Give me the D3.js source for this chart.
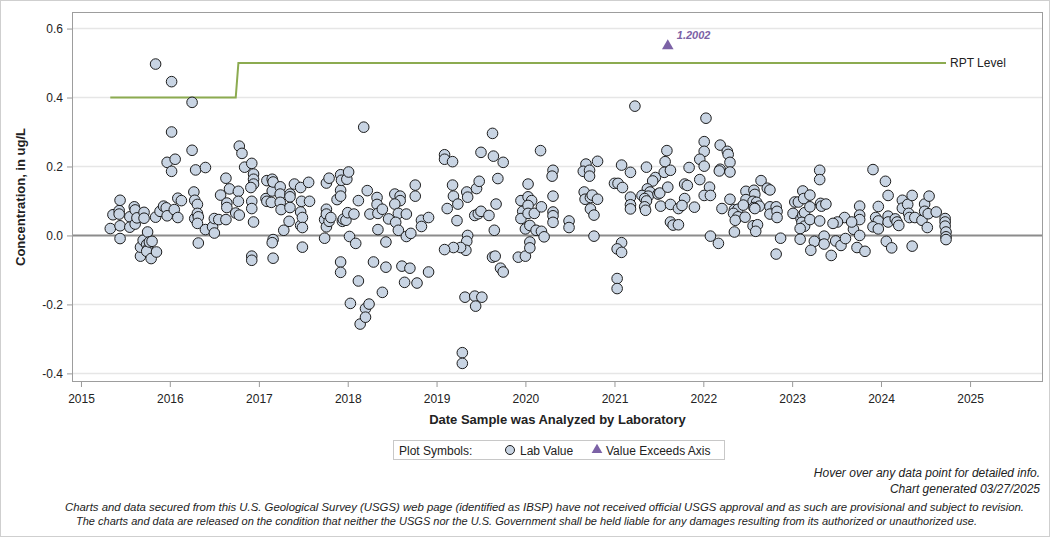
<!DOCTYPE html>
<html>
<head>
<meta charset="utf-8">
<script src="https://cdn.jsdelivr.net/npm/d3@7"></script>
<style>
body { margin: 0; background: #fff; }
svg text { font-family: "Liberation Sans", Arial, sans-serif; fill: #222; }
.foot { font-family: "Liberation Sans Narrow", "Liberation Sans", Arial, sans-serif; font-style: italic; }
</style>
</head>
<body>
<div id="chart"></div>
<script>
// sample dates (decimal years) and lab values, in ug/L
var sampleYear = [
  2015.33,2015.36,2015.43,2015.43,2015.44,2015.44,2015.44,2015.55,2015.55,2015.60,
  2015.61,2015.61,2015.63,2015.67,2015.67,2015.70,2015.71,2015.71,2015.75,2015.74,
  2015.75,2015.74,2015.77,2015.79,2015.80,2015.84,2015.84,2015.85,2015.89,2015.93,
  2015.96,2015.97,2015.97,2016.02,2016.02,2016.02,2016.05,2016.06,2016.09,2016.09,
  2016.13,2016.25,2016.25,2016.27,2016.28,2016.29,2016.28,2016.31,2016.31,2016.32,
  2016.31,2016.32,2016.40,2016.40,2016.48,2016.50,2016.50,2016.55,2016.57,2016.63,
  2016.64,2016.64,2016.63,2016.67,2016.74,2016.77,2016.77,2016.78,2016.78,2016.81,
  2016.84,2016.92,2016.94,2016.94,2016.94,2016.91,2016.92,2016.92,2016.94,2016.92,
  2016.92,2017.09,2017.08,2017.09,2017.14,2017.15,2017.15,2017.16,2017.16,2017.15,
  2017.16,2017.24,2017.24,2017.24,2017.25,2017.28,2017.34,2017.35,2017.35,2017.35,
  2017.40,2017.47,2017.47,2017.48,2017.47,2017.49,2017.49,2017.49,2017.56,2017.57,
  2017.74,2017.74,2017.76,2017.76,2017.76,2017.76,2017.79,2017.79,2017.81,2017.88,
  2017.92,2017.92,2017.92,2017.93,2017.92,2017.92,2017.94,2017.95,2017.99,2017.98,
  2018.00,2018.01,2018.02,2018.03,2018.07,2018.09,2018.12,2018.12,2018.14,2018.18,
  2018.20,2018.20,2018.22,2018.24,2018.25,2018.29,2018.33,2018.33,2018.34,2018.34,
  2018.39,2018.39,2018.43,2018.43,2018.46,2018.53,2018.59,2018.59,2018.53,2018.76,
  2018.76,2018.57,2018.66,2018.54,2018.57,2018.66,2018.71,2018.83,2018.91,2018.83,
  2018.61,2018.70,2018.91,2018.64,2018.78,2019.09,2019.09,2019.18,2019.50,2019.64,
  2019.75,2019.18,2019.19,2019.24,2019.12,2019.23,2019.34,2019.35,2019.45,2019.48,
  2019.43,2019.47,2019.50,2019.59,2019.67,2019.69,2019.65,2019.35,2019.34,2019.33,
  2019.27,2019.19,2019.09,2019.63,2019.66,2019.72,2019.75,2019.92,2020.00,2019.32,
  2019.43,2019.51,2019.44,2019.29,2019.29,2020.03,2019.95,2020.03,2020.07,2019.97,
  2019.95,2020.03,2020.03,2020.10,2020.00,2020.05,2020.05,2020.05,2019.63,2020.18,
  2020.17,2020.12,2020.18,2020.21,2020.31,2020.30,2020.31,2020.31,2020.31,2020.31,
  2020.49,2020.49,2020.68,2020.65,2020.72,2020.72,2020.81,2020.66,2020.67,2020.73,
  2020.75,2020.81,2020.73,2020.77,2020.77,2021.08,2021.18,2021.00,2021.04,2021.09,
  2021.18,2021.18,2021.18,2021.08,2021.03,2021.08,2021.03,2021.03,2021.23,2021.36,
  2021.46,2021.43,2021.37,2021.40,2021.31,2021.38,2021.34,2021.36,2021.34,2021.35,
  2021.49,2021.51,2021.52,2021.59,2021.57,2021.56,2021.63,2021.60,2021.63,2021.63,
  2021.66,2021.72,2021.72,2022.03,2022.01,2022.01,2021.96,2022.01,2021.84,2021.96,
  2021.79,2021.82,2022.07,2022.01,2022.08,2021.79,2021.76,2021.90,2022.08,2022.17,
  2022.19,2022.27,2022.28,2022.30,2022.19,2022.18,2022.30,2022.21,2022.30,2022.35,
  2022.39,2022.34,2022.39,2022.36,2022.47,2022.35,2022.65,2022.48,2022.57,2022.58,
  2022.48,2022.56,2022.60,2022.63,2022.57,2022.45,2022.58,2022.56,2022.61,2022.59,
  2022.72,2022.75,2022.75,2022.82,2022.75,2022.83,2022.83,2022.87,2022.82,2023.01,
  2023.03,2023.07,2023.12,2023.13,2023.20,2023.10,2023.12,2023.14,2023.20,2023.11,
  2023.14,2023.09,2023.20,2023.09,2023.25,2023.21,2023.31,2023.31,2023.32,2023.33,
  2023.31,2023.36,2023.36,2023.38,2023.44,2023.91,2024.05,2024.08,2023.76,2023.76,
  2023.76,2023.69,2023.76,2023.59,2023.67,2023.51,2023.46,2023.49,2023.55,2023.60,
  2023.73,2023.82,2023.97,2023.94,2023.97,2023.91,2023.97,2024.06,2024.12,2024.08,
  2024.08,2024.16,2024.18,2024.20,2024.24,2024.24,2024.30,2024.35,2024.31,2024.32,
  2024.38,2024.35,2024.46,2024.52,2024.49,2024.54,2024.49,2024.53,2024.62,2024.72,
  2024.72,2024.72,2024.73,2024.73,2024.73
];
var sampleValue = [
  0.020,0.060,0.072,0.062,0.102,0.028,-0.009,0.054,0.024,0.083,
  0.074,0.033,0.051,-0.060,-0.034,-0.014,0.067,0.050,0.010,-0.026,
  -0.040,-0.046,-0.019,-0.067,-0.017,0.497,0.053,-0.048,0.070,0.085,
  0.080,0.057,0.212,0.446,0.300,0.186,0.075,0.221,0.108,0.052,
  0.101,0.386,0.247,0.126,0.049,0.190,0.102,0.090,0.064,0.054,
  0.035,-0.022,0.197,0.017,0.025,0.049,0.007,0.046,0.117,0.166,
  0.094,0.081,0.046,0.135,0.065,0.128,0.099,0.059,0.259,0.238,
  0.198,0.209,0.178,0.163,0.149,0.139,0.099,0.078,0.039,-0.060,
  -0.072,0.159,0.107,0.099,0.096,0.163,0.129,0.155,-0.012,-0.021,
  -0.066,0.141,0.120,0.096,0.075,0.015,0.041,0.081,0.120,0.112,
  0.149,0.139,0.068,0.099,0.029,0.052,0.023,-0.034,0.154,0.099,
  0.046,-0.008,0.152,0.076,0.062,0.025,0.041,0.166,0.052,0.104,
  0.176,0.131,0.114,0.160,-0.077,-0.107,0.041,0.047,0.163,0.044,
  0.066,0.184,-0.003,-0.197,0.062,-0.023,0.101,-0.132,-0.257,0.314,
  -0.212,-0.237,0.130,-0.199,0.062,-0.077,0.110,0.090,0.064,0.017,
  0.076,-0.165,-0.019,-0.092,0.048,0.120,0.114,0.101,0.091,0.146,
  0.114,0.064,0.062,0.038,0.015,-0.003,0.006,0.044,0.052,0.026,
  -0.089,-0.095,-0.106,-0.136,-0.138,0.234,0.221,0.214,0.241,0.230,
  0.212,0.146,0.114,0.091,0.078,0.043,0.126,0.111,0.136,0.157,
  0.058,0.063,0.070,0.058,0.091,0.165,0.015,0.000,-0.017,-0.043,
  -0.035,-0.035,-0.041,-0.063,-0.060,-0.095,-0.106,-0.063,-0.060,-0.179,
  -0.176,-0.179,-0.205,-0.340,-0.371,0.149,0.101,0.112,0.101,0.070,
  0.049,0.087,0.064,0.064,0.019,0.029,-0.019,-0.036,0.296,0.083,
  0.246,0.015,0.012,-0.004,0.189,0.172,0.114,0.068,0.057,0.038,
  0.042,0.023,0.207,0.186,0.189,0.172,0.215,0.126,0.105,0.110,
  0.117,0.105,0.077,0.059,-0.002,0.204,0.183,0.151,0.151,0.139,
  0.111,0.089,0.077,-0.021,-0.039,-0.049,-0.125,-0.154,0.375,0.198,
  0.168,0.158,0.135,0.126,0.116,0.114,0.107,0.100,0.083,0.073,
  0.120,0.123,0.085,0.246,0.214,0.183,0.189,0.140,0.090,0.039,
  0.030,0.031,0.078,0.340,0.272,0.244,0.221,0.201,0.197,0.162,
  0.149,0.145,0.140,0.116,0.116,0.107,0.087,0.082,-0.002,-0.023,
  0.262,0.244,0.235,0.212,0.192,0.187,0.184,0.078,0.105,0.075,
  0.076,0.064,0.054,0.044,0.053,0.010,0.159,0.128,0.131,0.119,
  0.104,0.099,0.096,0.085,0.081,0.088,0.078,0.028,0.031,0.012,
  0.137,0.132,0.083,0.083,0.062,0.070,0.052,-0.008,-0.054,0.064,
  0.097,0.097,0.129,0.107,0.117,0.049,0.059,0.066,0.083,0.038,
  0.027,0.020,0.046,-0.011,-0.017,-0.043,0.189,0.162,0.093,0.085,
  0.042,-0.002,-0.025,0.091,-0.058,0.191,0.157,0.116,0.085,0.059,
  0.046,0.018,0.000,0.052,0.039,0.039,0.035,-0.016,-0.029,-0.009,
  -0.035,-0.046,0.084,0.052,0.042,0.025,0.019,-0.017,-0.036,0.056,
  0.039,0.048,0.039,0.029,0.102,0.079,0.090,0.116,0.064,0.052,
  0.052,-0.031,0.044,0.023,0.091,0.114,0.070,0.063,0.068,0.049,
  0.039,0.027,0.010,-0.004,-0.012
];

// reporting level step line
var rptYear = [2015.33, 2016.74, 2016.77, 2024.73];
var rptValue = [0.4, 0.4, 0.5, 0.5];

// values above the axis maximum
var exceedYear = [2021.60];
var exceedValue = [1.2002];

var yTicks = [-0.4, -0.2, 0.0, 0.2, 0.4, 0.6];
var yMin = -0.425, yMax = 0.648;
var xMinYear = 2014.899, xMaxYear = 2025.821;

var width = 1056, height = 538;
var plot = {left: 72, top: 12, right: 1043, bottom: 382};
var pointFill = "#c8d4e3",
    rptColor = "#8cab50",
    exceedColor = "#7c62a6";

function yearToDate(y) {
    var yr = Math.floor(y);
    var start = Date.UTC(yr, 0, 1), end = Date.UTC(yr + 1, 0, 1);
    return new Date(start + (y - yr) * (end - start));
}

var samples = sampleYear.map(function(y, i) {
    return {date: yearToDate(y), value: sampleValue[i]};
});
var rpt = rptYear.map(function(y, i) {
    return {date: yearToDate(y), value: rptValue[i]};
});
var exceed = exceedYear.map(function(y, i) {
    return {date: yearToDate(y), value: exceedValue[i]};
});

var xScale = d3.scaleUtc()
        .domain([yearToDate(xMinYear), yearToDate(xMaxYear)])
        .range([plot.left, plot.right]);
var yScale = d3.scaleLinear()
        .domain([yMin, yMax])
        .range([plot.bottom, plot.top]);

var svg = d3.select("#chart").append("svg")
        .attr("width", width)
        .attr("height", height);

svg.append("rect")
    .attr("x", 0.5).attr("y", 0.5)
    .attr("width", width - 7).attr("height", height - 2)
    .attr("fill", "#fff")
    .attr("stroke", "#cfcfcf");

svg.append("clipPath").attr("id", "plotClip")
    .append("rect")
    .attr("x", plot.left).attr("y", plot.top)
    .attr("width", plot.right - plot.left)
    .attr("height", plot.bottom - plot.top);

// grid lines
svg.append("g").selectAll("line")
    .data(yTicks.filter(function(d) { return d !== 0; }))
    .enter().append("line")
    .attr("x1", plot.left).attr("x2", plot.right)
    .attr("y1", function(d) { return yScale(d); })
    .attr("y2", function(d) { return yScale(d); })
    .attr("stroke", "#e6e6e6")
    .attr("stroke-width", 1.5);

svg.append("line")
    .attr("x1", plot.left).attr("x2", plot.right)
    .attr("y1", yScale(0)).attr("y2", yScale(0))
    .attr("stroke", "#8c8c8c")
    .attr("stroke-width", 2);

// axes
var yAxis = svg.append("g")
    .attr("transform", "translate(" + plot.left + ",0)")
    .call(d3.axisLeft(yScale)
        .tickValues(yTicks)
        .tickSize(5)
        .tickPadding(4)
        .tickFormat(function(d) { return d.toFixed(1); }));
var xAxis = svg.append("g")
    .attr("transform", "translate(0," + plot.bottom + ")")
    .call(d3.axisBottom(xScale)
        .ticks(d3.utcYear.every(1))
        .tickSize(5)
        .tickPadding(7)
        .tickFormat(d3.utcFormat("%Y")));
[yAxis, xAxis].forEach(function(ax) {
    ax.select(".domain").remove();
    ax.selectAll(".tick line").attr("stroke", "#9a9a9a");
    ax.selectAll(".tick text")
        .style("font-family", "'Liberation Sans', Arial, sans-serif")
        .style("font-size", "12px")
        .attr("fill", "#222");
});

svg.append("rect")
    .attr("x", plot.left + 0.5).attr("y", plot.top + 0.5)
    .attr("width", plot.right - plot.left - 1)
    .attr("height", plot.bottom - plot.top - 1)
    .attr("fill", "none")
    .attr("stroke", "#9d9d9d");

var dataGroup = svg.append("g").attr("clip-path", "url(#plotClip)");

// RPT level
var line = d3.line()
    .x(function(d) { return xScale(d.date); })
    .y(function(d) { return yScale(d.value); });
dataGroup.append("path")
    .attr("d", line(rpt))
    .attr("fill", "none")
    .attr("stroke", rptColor)
    .attr("stroke-width", 2);
var rptEnd = rpt[rpt.length - 1];
svg.append("text")
    .attr("x", xScale(rptEnd.date) + 4)
    .attr("y", yScale(rptEnd.value) + 4)
    .style("font-size", "12px")
    .text("RPT Level");

// sample points
dataGroup.append("g").selectAll("circle")
    .data(samples)
    .enter().append("circle")
    .attr("cx", function(d) { return xScale(d.date); })
    .attr("cy", function(d) { return yScale(d.value); })
    .attr("r", 5.3)
    .attr("fill", pointFill)
    .attr("stroke", "#1c1c1c")
    .attr("stroke-width", 1);

// values exceeding the axis
var exceedY = yScale(yMax) + 34;
var tri = svg.append("g").selectAll("g")
    .data(exceed)
    .enter().append("g")
    .attr("transform", function(d) { return "translate(" + xScale(d.date) + "," + exceedY + ")"; });
tri.append("path")
    .attr("d", d3.symbol(d3.symbolTriangle).size(58))
    .attr("fill", exceedColor);
tri.append("text")
    .attr("x", 9).attr("y", -7)
    .style("font-size", "11px")
    .style("font-weight", "bold")
    .style("font-style", "italic")
    .style("fill", exceedColor)
    .text(function(d) { return d.value.toFixed(4); });

// axis titles
svg.append("text")
    .attr("transform", "translate(25," + ((plot.top + plot.bottom) / 2) + ") rotate(-90)")
    .attr("text-anchor", "middle")
    .style("font-size", "13px")
    .style("font-weight", "bold")
    .text("Concentration, in ug/L");
svg.append("text")
    .attr("x", (plot.left + plot.right) / 2)
    .attr("y", 424)
    .attr("text-anchor", "middle")
    .style("font-size", "13px")
    .style("font-weight", "bold")
    .text("Date Sample was Analyzed by Laboratory");

// legend
var legend = svg.append("g");
legend.append("rect")
    .attr("x", 393.5).attr("y", 440.5)
    .attr("width", 331).attr("height", 19)
    .attr("fill", "#fff")
    .attr("stroke", "#c8c8c8");
legend.append("text").attr("x", 399).attr("y", 454.5)
    .style("font-size", "12px").text("Plot Symbols:");
legend.append("circle")
    .attr("cx", 510).attr("cy", 450).attr("r", 4.5)
    .attr("fill", pointFill).attr("stroke", "#1c1c1c");
legend.append("text").attr("x", 520).attr("y", 454.5)
    .style("font-size", "12px").text("Lab Value");
legend.append("path")
    .attr("transform", "translate(597,450)")
    .attr("d", d3.symbol(d3.symbolTriangle).size(50))
    .attr("fill", exceedColor);
legend.append("text").attr("x", 606).attr("y", 454.5)
    .style("font-size", "12px").text("Value Exceeds Axis");

// footer notes
var foot = svg.append("g").attr("class", "foot");
foot.append("text").attr("class", "foot")
    .attr("x", 1040).attr("y", 477).attr("text-anchor", "end")
    .style("font-size", "12px")
    .text("Hover over any data point for detailed info.");
foot.append("text").attr("class", "foot")
    .attr("x", 1040).attr("y", 493).attr("text-anchor", "end")
    .style("font-size", "12px")
    .text("Chart generated 03/27/2025");
foot.append("text").attr("class", "foot")
    .attr("x", 65).attr("y", 511)
    .attr("textLength", 959).attr("lengthAdjust", "spacingAndGlyphs")
    .style("font-size", "11px")
    .text("Charts and data secured from this U.S. Geological Survey (USGS) web page (identified as IBSP) have not received official USGS approval and as such are provisional and subject to revision.");
foot.append("text").attr("class", "foot")
    .attr("x", 76).attr("y", 525)
    .attr("textLength", 901).attr("lengthAdjust", "spacingAndGlyphs")
    .style("font-size", "11px")
    .text("The charts and data are released on the condition that neither the USGS nor the U.S. Government shall be held liable for any damages resulting from its authorized or unauthorized use.");
</script>
</body>
</html>
